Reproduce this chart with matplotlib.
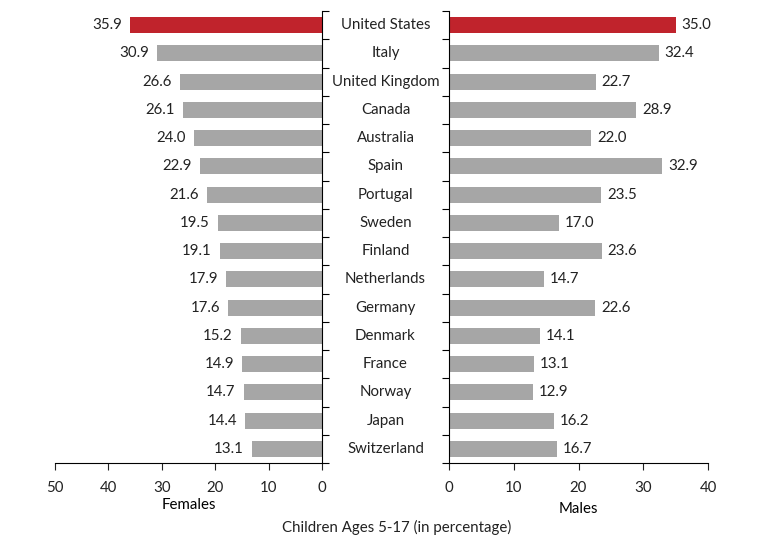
import numpy as np
import matplotlib
matplotlib.use("Agg")
from matplotlib import pyplot as plt
from matplotlib.transforms import blended_transform_factory

plt.rcParams['font.family'] = ['Lato', 'DejaVu Sans']

countries = ['United States', 'Italy', 'United Kingdom', 'Canada', 'Australia',
             'Spain', 'Portugal', 'Sweden', 'Finland', 'Netherlands', 'Germany',
             'Denmark', 'France', 'Norway', 'Japan', 'Switzerland']
females = [35.9, 30.9, 26.6, 26.1, 24.0, 22.9, 21.6, 19.5, 19.1, 17.9, 17.6,
           15.2, 14.9, 14.7, 14.4, 13.1]
males = [35.0, 32.4, 22.7, 28.9, 22.0, 32.9, 23.5, 17.0, 23.6, 14.7, 22.6,
         14.1, 13.1, 12.9, 16.2, 16.7]

red = '#C0232C'
grey = '#A6A6A6'
colors = [red] + [grey] * (len(countries) - 1)
ypos = np.arange(len(countries))
bounds = np.arange(len(countries) + 1) - 0.5

fig = plt.figure(figsize=(7.65, 5.39), dpi=100)
ax1 = fig.add_axes([55 / 765, 1 - 463 / 539, 267 / 765, 452 / 539])
ax2 = fig.add_axes([449 / 765, 1 - 463 / 539, 259 / 765, 452 / 539])

fs = 10.8
ax1.barh(ypos, females, height=0.57, color=colors)
ax2.barh(ypos, males, height=0.57, color=colors)

for y, v in zip(ypos, females):
    ax1.text(v + 1.5, y, f'{v:.1f}', ha='right', va='center', fontsize=fs, color='#222222')
for y, v in zip(ypos, males):
    ax2.text(v + 0.9, y, f'{v:.1f}', ha='left', va='center', fontsize=fs, color='#222222')

ax1.set_xlim(50, 0)
ax2.set_xlim(0, 40)
for ax in (ax1, ax2):
    ax.set_ylim(bounds[-1], bounds[0])
    ax.set_yticks(bounds)
    ax.set_yticklabels([])
    ax.spines['top'].set_visible(False)
    ax.tick_params(axis='x', direction='out', length=5, labelsize=fs, pad=8, colors='#222222')
    ax.tick_params(axis='y', direction='out', length=5)

ax1.set_xticks([50, 40, 30, 20, 10, 0])
ax2.set_xticks([0, 10, 20, 30, 40])
ax1.spines['left'].set_visible(False)
ax1.yaxis.tick_right()
ax2.spines['right'].set_visible(False)
ax2.yaxis.tick_left()

ax1.set_xlabel('Females', fontsize=fs, labelpad=2)
ax2.set_xlabel('Males', fontsize=fs, labelpad=5)

tr = blended_transform_factory(fig.transFigure, ax1.transData)
for y, name in zip(ypos, countries):
    fig.text(385.5 / 765, y, name, transform=tr, ha='center', va='center',
             fontsize=fs, color='#222222')

fig.text(397 / 765, 1 - 527 / 539, 'Children Ages 5-17 (in percentage)',
         ha='center', va='center', fontsize=fs, color='#222222')

fig.savefig('out.png', dpi=100)
